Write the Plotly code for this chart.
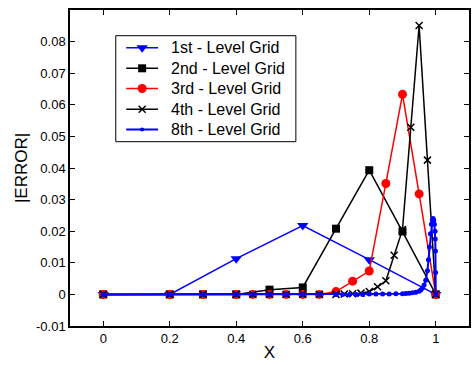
import plotly.graph_objects as go

# ---- data ----
x1 = [0, 0.2, 0.4, 0.6, 0.8, 1.0]
y1 = [0, 0, 0.0113, 0.0218, 0.0110, 0]

x2 = [0, 0.2, 0.3, 0.4, 0.5, 0.6, 0.7, 0.8, 0.9, 1.0]
y2 = [0, 0, 0, 0, 0.0015, 0.0022, 0.0208, 0.0393, 0.0199, 0]

x3 = [0, 0.2, 0.3, 0.4, 0.45, 0.5, 0.55, 0.6, 0.65, 0.7, 0.75, 0.8, 0.85, 0.9, 0.95, 1.0]
y3 = [0, 0, 0, 0, 0, 0, 0, 0, 0, 0.0009, 0.0042, 0.0074, 0.0351, 0.0633, 0.0318, 0]

x4 = [0, 0.2, 0.3, 0.4, 0.45, 0.5, 0.55, 0.6, 0.65, 0.7, 0.725, 0.75, 0.775, 0.8,
      0.825, 0.85, 0.875, 0.9, 0.925, 0.95, 0.975, 1.0]
y4 = [0, 0, 0, 0, 0, 0, 0, 0, 0, 0, 0.0001, 0.0002, 0.0004, 0.0009,
      0.0024, 0.0043, 0.0124, 0.0205, 0.0529, 0.0851, 0.0425, 0]

x8 = [0, 0.2, 0.3, 0.4, 0.45, 0.5, 0.55, 0.6, 0.65, 0.7, 0.72, 0.74, 0.76, 0.78,
      0.8, 0.82, 0.84, 0.86, 0.88, 0.9, 0.91, 0.92, 0.93, 0.94, 0.95, 0.955,
      0.96, 0.965, 0.97, 0.975, 0.978, 0.981, 0.984, 0.987, 0.99, 0.992,
      0.994, 0.996, 0.998, 0.9985, 0.999, 0.9995, 1.0]
y8 = [0, 0, 0, 0, 0, 0, 0, 0, 0, 0, 0, 0, 0, 0,
      0.0001, 0.0001, 0.0001, 0.0001, 0.0002, 0.0002, 0.0003, 0.0004, 0.0005, 0.0007, 0.0010, 0.0014,
      0.0020, 0.0030, 0.0045, 0.0075, 0.0110, 0.0150, 0.0192, 0.0222, 0.0236, 0.0240,
      0.0235, 0.0222, 0.0200, 0.0175, 0.0137, 0.0069, 0]

names = ["1st - Level Grid", "2nd - Level Grid", "3rd - Level Grid",
         "4th - Level Grid", "8th - Level Grid"]

xticks = [0, 0.2, 0.4, 0.6, 0.8, 1]
xticktext = ["0", "0.2", "0.4", "0.6", "0.8", "1"]
yticks = [-0.01, 0, 0.01, 0.02, 0.03, 0.04, 0.05, 0.06, 0.07, 0.08]
yticktext = ["-0.01", "0", "0.01", "0.02", "0.03", "0.04", "0.05", "0.06", "0.07", "0.08"]

FONT = "Liberation Sans, Arial"

styles = [
    dict(line=dict(color="#0000ff", width=1.5),
         marker=dict(symbol="triangle-down", size=10, color="#0000ff")),
    dict(line=dict(color="#000000", width=1.5),
         marker=dict(symbol="square", size=8, color="#000000")),
    dict(line=dict(color="#ff0000", width=1.5),
         marker=dict(symbol="circle", size=9, color="#ff0000")),
    dict(line=dict(color="#000000", width=1.5),
         marker=dict(symbol="x-thin", size=7, color="#000000",
                     line=dict(color="#000000", width=1.5))),
    dict(line=dict(color="#0000ff", width=2),
         marker=dict(symbol="circle", size=5, color="#0000ff")),
]

series = [(x1, y1), (x2, y2), (x3, y3), (x4, y4), (x8, y8)]

fig = go.Figure()
for (xs, ys), nm, st in zip(series, names, styles):
    fig.add_trace(go.Scatter(x=xs, y=ys, name=nm, mode="lines+markers",
                             showlegend=False, **st))

# ---- legend drawn on a pixel-scaled overlay axis ----
PW, PH = 401, 316
row_y = [37.7, 58.3, 78.5, 99.3, 119.5]
legend_styles = [
    dict(symbol="triangle-down", size=10, color="#0000ff"),
    dict(symbol="square", size=8, color="#000000"),
    dict(symbol="circle", size=9, color="#ff0000"),
    dict(symbol="x-thin", size=7, color="#000000", line=dict(color="#000000", width=1.5)),
    dict(symbol="circle", size=4, color="#0000ff"),
]
for nm, st, ms, ry in zip(names, styles, legend_styles, row_y):
    fig.add_trace(go.Scatter(x=[56.5, 88.5], y=[ry, ry], mode="lines",
                             line=st["line"], xaxis="x2", yaxis="y2",
                             showlegend=False, hoverinfo="skip"))
    fig.add_trace(go.Scatter(x=[72.5], y=[ry], mode="markers", marker=ms,
                             xaxis="x2", yaxis="y2", showlegend=False, hoverinfo="skip"))
    fig.add_annotation(x=99, y=ry, xref="x2", yref="y2", text=nm, showarrow=False,
                       xanchor="left", yanchor="middle",
                       font=dict(family=FONT, size=16, color="black"))

fig.add_shape(type="rect", xref="x2", yref="y2", x0=46, x1=227, y0=25.7, y1=131.7,
              line=dict(color="black", width=1), fillcolor="white", layer="below")

axis_common = dict(showgrid=False, zeroline=False, showline=True, linecolor="black",
                   linewidth=1.5, mirror="ticks", ticks="inside", ticklen=5,
                   tickcolor="black", tickwidth=1,
                   tickfont=dict(family=FONT, size=13, color="black"))

fig.update_layout(
    xaxis=dict(range=[-0.1, 1.1], tickvals=xticks, ticktext=xticktext,
               title=dict(text="X", font=dict(family=FONT, size=17, color="black"), standoff=1),
               **axis_common),
    yaxis=dict(range=[-0.01, 0.09], tickvals=yticks, ticktext=yticktext,
               title=dict(text="|ERROR|", font=dict(family=FONT, size=17, color="black"), standoff=4),
               **axis_common),
    xaxis2=dict(overlaying="x", range=[0, PW], visible=False, fixedrange=True, anchor="y2"),
    yaxis2=dict(overlaying="y", range=[PH, 0], visible=False, fixedrange=True, anchor="x2"),
    width=472, height=365,
    margin=dict(l=70, r=1, t=10, b=39),
    paper_bgcolor="white", plot_bgcolor="white",
    font=dict(family=FONT, color="black"),
    showlegend=False,
)

fig.write_html("out.html")
